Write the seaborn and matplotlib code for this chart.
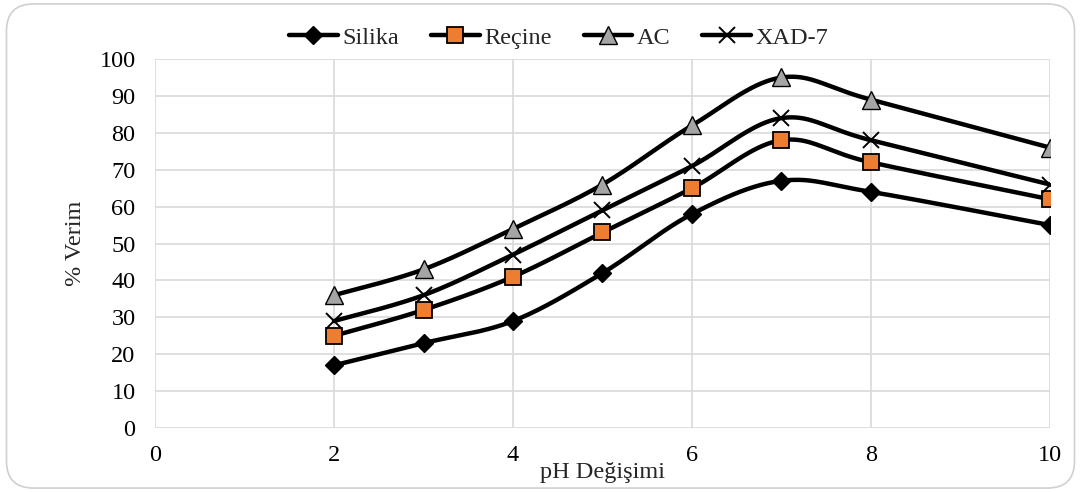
import numpy as np
import pandas as pd
import matplotlib
matplotlib.use("Agg")
import matplotlib.pyplot as plt
from matplotlib.patches import FancyBboxPatch
from matplotlib.lines import Line2D
import seaborn as sns

# pH values and yields (%) for each sorbent
ph = [2, 3, 4, 5, 6, 7, 8, 10]
silika = [17, 23, 29, 42, 58, 67, 64, 55]
recine = [25, 32, 41, 53, 65, 78, 72, 62]
ac = [36, 43, 54, 66, 82, 95, 89, 76]
xad7 = [29, 36, 47, 59, 71, 84, 78, 66]

series_names = ["Silika", "Reçine", "AC", "XAD-7"]
series_values = [silika, recine, ac, xad7]

x_ticks = [0, 2, 4, 6, 8, 10]
y_ticks = list(range(0, 101, 10))

styles = {
    "Silika": dict(marker="D", color="black", edge="black", size=9.5, mew=1.0),
    "Reçine": dict(marker="s", color="#ED7D31", edge="black", size=12, mew=1.3),
    "AC": dict(marker="^", color="#A5A5A5", edge="black", size=12.5, mew=1.0),
    "XAD-7": dict(marker="x", color="black", edge="black", size=11, mew=1.4),
}

FS = 17.5

sns.set_theme(style="white")
plt.rcParams["font.family"] = ["Liberation Serif", "DejaVu Serif"]


def smooth_curve(xs, ys, n=40):
    """Bezier smoothing through every point (Catmull-Rom style tangents)."""
    pts = np.column_stack([xs, ys]).astype(float)
    out = [pts[0]]
    m = len(pts)
    for i in range(m - 1):
        p0 = pts[i - 1] if i > 0 else pts[i]
        p1 = pts[i]
        p2 = pts[i + 1]
        p3 = pts[i + 2] if i + 2 < m else pts[i + 1]
        c1 = p1 + (p2 - p0) / 6.0
        c2 = p2 - (p3 - p1) / 6.0
        t = np.linspace(0, 1, n)[1:, None]
        seg = ((1 - t) ** 3) * p1 + 3 * ((1 - t) ** 2) * t * c1 + 3 * (1 - t) * t ** 2 * c2 + t ** 3 * p2
        out.extend(seg)
    out = np.array(out)
    return out[:, 0], out[:, 1]


fig = plt.figure(figsize=(10.81, 4.92), dpi=100)
ax = fig.add_axes([0.1434, 0.130, 0.8279, 0.750])

records = []
for name, vals in zip(series_names, series_values):
    for x, y in zip(ph, vals):
        records.append({"pH": x, "Verim": y, "Seri": name})
df = pd.DataFrame(records)

for name in series_names:
    sub = df[df["Seri"] == name]
    sx, sy = smooth_curve(sub["pH"].values, sub["Verim"].values)
    sns.lineplot(x=sx, y=sy, ax=ax, color="black", linewidth=3.2, sort=False,
                 estimator=None, zorder=3, legend=False)

for name in series_names:
    sub = df[df["Seri"] == name]
    st = styles[name]
    if st["marker"] == "x":
        ax.plot(sub["pH"], sub["Verim"], linestyle="none", marker="x",
                markersize=st["size"], markeredgewidth=st["mew"], color="black", zorder=4)
    else:
        ax.plot(sub["pH"], sub["Verim"], linestyle="none", marker=st["marker"],
                markersize=st["size"], markerfacecolor=st["color"],
                markeredgecolor=st["edge"], markeredgewidth=st["mew"], zorder=4)

ax.set_xlim(0, 10)
ax.set_ylim(0, 100)
ax.set_xticks(x_ticks)
ax.set_yticks(y_ticks)
ax.tick_params(axis="both", labelsize=FS, length=0, colors="black")
ax.tick_params(axis="x", pad=12)
ax.tick_params(axis="y", pad=14)
ax.grid(True, color="#d9d9d9", linewidth=1.2)
ax.set_axisbelow(True)
for sp in ax.spines.values():
    sp.set_visible(False)

ax.set_ylabel("% Verim", fontsize=FS, labelpad=10)
ax.set_xlabel("pH Değişimi", fontsize=FS, labelpad=-3)

handles = []
for name in series_names:
    st = styles[name]
    if st["marker"] == "x":
        h = Line2D([], [], color="black", linewidth=3.2, marker="x",
                   markersize=st["size"], markeredgewidth=st["mew"])
    else:
        h = Line2D([], [], color="black", linewidth=3.2, marker=st["marker"],
                   markersize=st["size"], markerfacecolor=st["color"],
                   markeredgecolor=st["edge"], markeredgewidth=st["mew"])
    handles.append(h)

fig.legend(handles, series_names, loc="center", bbox_to_anchor=(0.517, 0.923),
           ncol=4, frameon=False, fontsize=FS, handlelength=2.0,
           handletextpad=0.2, columnspacing=1.3)

border = FancyBboxPatch((0.006, 0.008), 0.988, 0.984,
                        boxstyle="round,pad=0,rounding_size=0.025",
                        transform=fig.transFigure, facecolor="none",
                        edgecolor="#d0d0d0", linewidth=1.2, mutation_aspect=2.2)
fig.patches.append(border)

fig.savefig("out.png", dpi=100)
